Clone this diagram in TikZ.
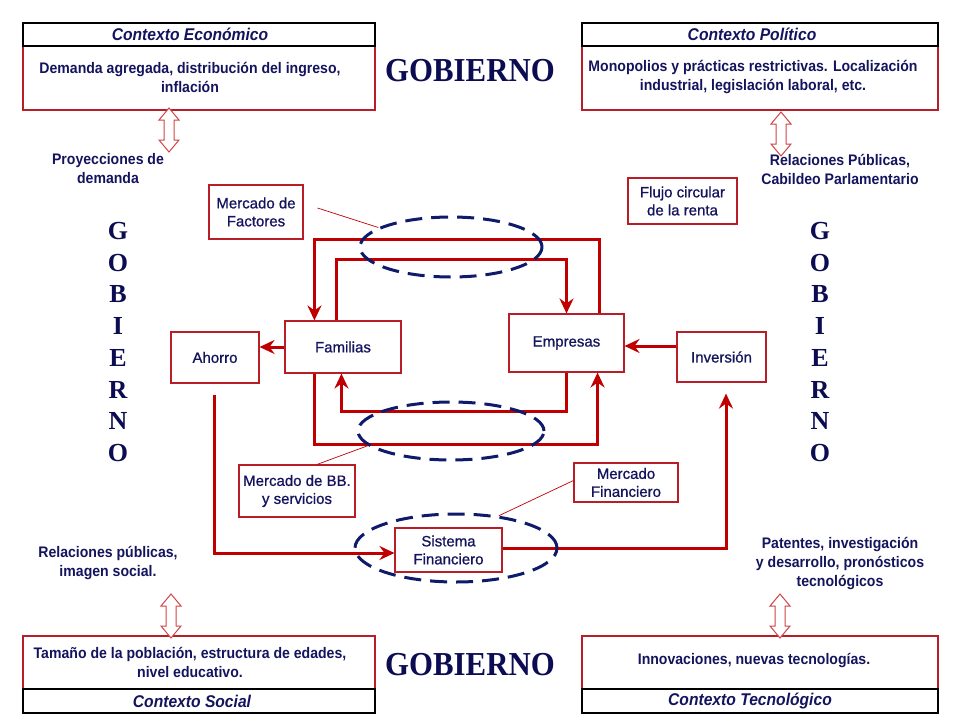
\documentclass[tikz,border=0pt]{standalone}
\usepackage{fontspec}
\setmainfont{Liberation Sans}
\newfontfamily\boxf[FakeBold=0.8]{Liberation Sans}
\newfontfamily\bodyf[FakeStretch=0.92]{Liberation Sans}
\newfontfamily\gobf[FakeStretch=0.92]{Liberation Serif}
\newfontfamily\gobvf{Liberation Serif}
\usetikzlibrary{shapes.geometric,arrows.meta,calc}
\definecolor{navy}{HTML}{14145E}
\definecolor{gobnavy}{HTML}{0C0C52}
\definecolor{linered}{HTML}{C00000}
\definecolor{boxred}{HTML}{B81E28}
\definecolor{arrred}{HTML}{D04545}
\definecolor{ellnavy}{HTML}{0E1A6A}
\begin{document}
\begin{tikzpicture}[x=1pt,y=-1pt,
  box/.style={draw=boxred, line width=1.1pt, fill=white, inner sep=0pt, align=center,
    text=navy, font=\boxf\fontsize{15}{18}\selectfont},
  ctxb/.style={draw=boxred, line width=1.2pt, fill=white, inner sep=0pt},
  ctxh/.style={draw=black, line width=1.2pt, fill=white, inner sep=0pt},
  flow/.style={draw=linered, line width=3pt},
  arr/.style={-{Stealth[length=15pt,width=14pt,inset=5pt]}},
  mkt/.style={ellipse, draw=ellnavy, line width=3pt, dash pattern=on 17pt off 9pt, inner sep=0pt},
  thinline/.style={draw=linered, line width=0.7pt},
  lbl/.style={text=navy, align=center, inner sep=0pt, font=\bodyf\bfseries\fontsize{15.3}{19}\selectfont},
  hd/.style={text=navy, inner sep=0pt, font=\bodyf\bfseries\itshape\fontsize{17}{19}\selectfont},
  gob/.style={text=gobnavy, inner sep=0pt, font=\gobf\bfseries\fontsize{33.5}{36}\selectfont},
  gobv/.style={text=gobnavy, align=center, inner sep=0pt, font=\gobvf\bfseries\fontsize{26}{31.7}\selectfont},
  dblarrow/.pic={\draw[arrred, line width=1pt, fill=white]
    (0,0) -- (10,12) -- (5,12) -- (5,32) -- (10,32) -- (0,44) -- (-10,32) -- (-5,32)
    -- (-5,12) -- (-10,12) -- cycle;}
]
\fill[white] (0,0) rectangle (960,720);
\useasboundingbox (0,0) rectangle (960,720);

% context boxes (top)
\node[ctxb, minimum width=352pt, minimum height=64pt] (bE) at (199,78) {};
\node[ctxh, minimum width=352pt, minimum height=23pt] (hE) at (199,34.5) {};
\node[hd] (thE) at (190,34.5) {Contexto Económico};
\node[lbl] (tE) at (190,77) {Demanda agregada, distribución del ingreso,\\inflación};

\node[ctxb, minimum width=356pt, minimum height=64pt] (bP) at (760,78) {};
\node[ctxh, minimum width=356pt, minimum height=23pt] (hP) at (760,34.5) {};
\node[hd] (thP) at (752,34.5) {Contexto Político};
\node[lbl] (tP) at (753,77) {Monopolios y prácticas restrictivas. Localización\\industrial, legislación laboral, etc.};

% context boxes (bottom)
\node[ctxb, minimum width=352pt, minimum height=53pt] (bS) at (199,662.5) {};
\node[ctxh, minimum width=352pt, minimum height=24pt] (hS) at (199,701) {};
\node[hd] (thS) at (192,701) {Contexto Social};
\node[lbl] (tS) at (190,662) {Tamaño de la población, estructura de edades,\\nivel educativo.};

\node[ctxb, minimum width=356pt, minimum height=53pt] (bT) at (760,662.5) {};
\node[ctxh, minimum width=356pt, minimum height=24pt] (hT) at (760,701) {};
\node[hd] (thT) at (750,701) {Contexto Tecnológico};
\node[lbl] (tT) at (754,660) {Innovaciones, nuevas tecnologías.};

% GOBIERNO
\node[gob] (g1) at (470,71) {GOBIERNO};
\node[gob] (g2) at (470,665) {GOBIERNO};
\node[gobv] (gl) at (118,342) {G\\O\\B\\I\\E\\R\\N\\O};
\node[gobv] (gr) at (820,342) {G\\O\\B\\I\\E\\R\\N\\O};

% double arrows
\pic at (169,108) {dblarrow};
\pic at (781,112) {dblarrow};
\pic at (171,594) {dblarrow};
\pic at (780,594) {dblarrow};

% side labels
\node[lbl] (pd) at (108,169) {Proyecciones de\\demanda};
\node[lbl] (rp) at (840,169) {Relaciones Públicas,\\Cabildeo Parlamentario};
\node[lbl] (rs) at (108,563) {Relaciones públicas,\\imagen social.};
\node[lbl] (pt) at (840,564) {Patentes, investigación\\y desarrollo, pronósticos\\tecnológicos};

% boxes
\node[box, minimum width=116pt, minimum height=52pt] (fam) at (343,347) {Familias};
\node[box, minimum width=115pt, minimum height=58pt] (emp) at (566.5,343) {Empresas};
\node[box, minimum width=88pt, minimum height=51pt] (aho) at (215,357.5) {Ahorro};
\node[box, minimum width=89pt, minimum height=50pt] (inv) at (721.5,357) {Inversión};
\node[box, minimum width=94pt, minimum height=54pt] (mfac) at (256,212) {Mercado de\\Factores};
\node[box, minimum width=109pt, minimum height=46pt] (flujo) at (682.5,201) {Flujo circular\\de la renta};
\node[box, minimum width=116pt, minimum height=52pt] (mbb) at (297,491) {Mercado de BB.\\y servicios};
\node[box, minimum width=104pt, minimum height=39pt] (mfin) at (626,482.5) {Mercado\\Financiero};
\node[box, minimum width=107pt, minimum height=44pt] (sis) at (448.5,550) {Sistema\\Financiero};

% circular flows
\draw[flow,arr] ($(emp.north east)+(-25,0)$) -- ++(0,-74) -| ($(fam.north west)+(30,0)$);
\draw[flow,arr] ($(fam.north west)+(52,0)$) -- ++(0,-61) -| (emp.north);
\draw[flow,arr] (emp.south) -- ++(0,39) -| ($(fam.south west)+(57,0)$);
\draw[flow,arr] ($(fam.south west)+(30,0)$) -- ++(0,71) -| ($(emp.south east)+(-27,0)$);
\draw[flow,arr] (fam.west) -- (fam.west -| aho.east);
\draw[flow,arr] ($(inv.west)+(0,-11)$) -- ($(emp.east)+(0,3)$);
\draw[flow,arr] ($(aho.south)+(-1,11)$) |- ($(sis.west)+(0,3)$);
\draw[flow,arr] ($(sis.east)+(0,-2)$) -| ($(inv.south)+(4.5,11)$);

% markets
\node[mkt, minimum width=182pt, minimum height=60pt] (el1) at (451,247) {};
\node[mkt, minimum width=186pt, minimum height=58pt] (el2) at (451,431) {};
\node[mkt, minimum width=202pt, minimum height=68pt] (el3) at (456,548) {};

\draw[thinline] ($(mfac.east)+(14,-4)$) -- (el1.165);
\draw[thinline] ($(mbb.north)+(20,0)$) -- (el2.190);
\draw[thinline] ($(mfin.west)+(0,-2)$) -- (el3.37);
\end{tikzpicture}
\end{document}
